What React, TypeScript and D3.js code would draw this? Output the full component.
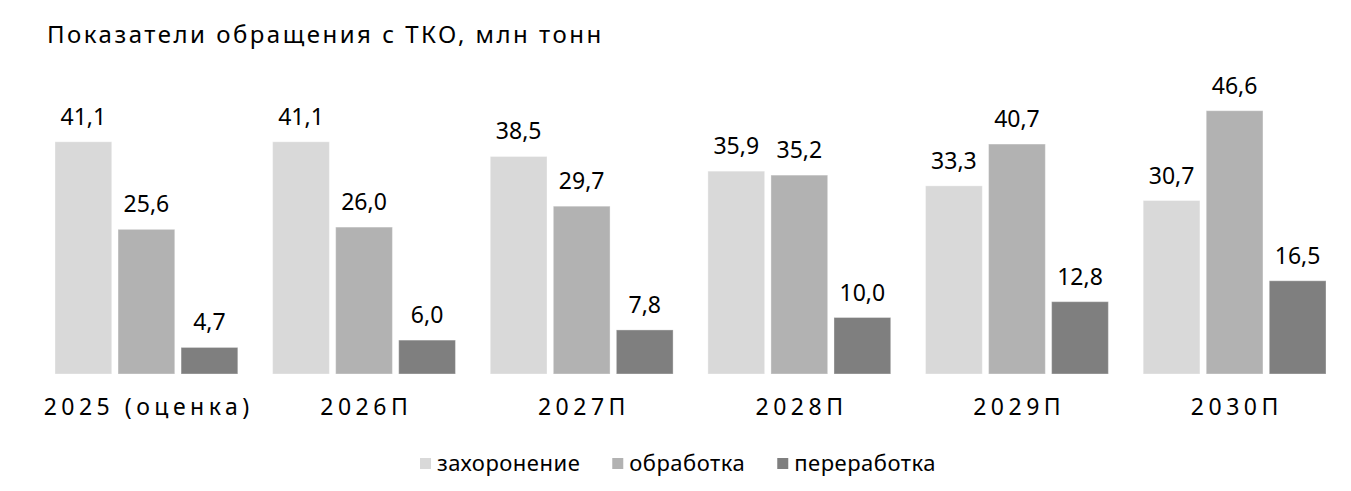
import { useEffect, useRef } from "react";
import * as d3 from "d3";

const categories = ["2025 (оценка)", "2026П", "2027П", "2028П", "2029П", "2030П"];
const seriesNames = ["захоронение", "обработка", "переработка"];
const burial = [41.1, 41.1, 38.5, 35.9, 33.3, 30.7];
const processing = [25.6, 26.0, 29.7, 35.2, 40.7, 46.6];
const recycling = [4.7, 6.0, 7.8, 10.0, 12.8, 16.5];
const seriesColors = ["#d9d9d9", "#b2b2b2", "#7f7f7f"];
const title = "Показатели обращения с ТКО, млн тонн";

const WIDTH = 1351;
const HEIGHT = 491;
const FONT = "'Noto Sans', 'Open Sans', sans-serif";

export default function App() {
  const svgRef = useRef<SVGSVGElement>(null);

  useEffect(() => {
    if (!svgRef.current) return;
    const svg = d3.select(svgRef.current);
    svg.selectAll("*").remove();

    const seriesValues = [burial, processing, recycling];
    const rows = categories.map((cat, i) => ({
      cat,
      values: seriesNames.map((name, s) => ({ name, s, value: seriesValues[s][i] })),
    }));

    const x0 = d3.scaleBand<string>()
      .domain(categories)
      .range([55, 1326])
      .paddingInner(0.16)
      .paddingOuter(0);

    const x1 = d3.scaleBand<string>()
      .domain(seriesNames)
      .range([0, x0.bandwidth()])
      .paddingInner(0.1);

    const y = d3.scaleLinear().domain([0, 50]).range([374, 91.5]);
    const color = d3.scaleOrdinal<string>().domain(seriesNames).range(seriesColors);
    const fmt = (v: number) => d3.format(".1f")(v).replace(".", ",");

    // Title
    svg.append("text")
      .attr("x", 47)
      .attr("y", 43)
      .attr("font-family", FONT)
      .attr("font-size", 24)
      .attr("letter-spacing", 2.5)
      .attr("fill", "#000")
      .text(title);

    // Bars + value labels
    const group = svg.selectAll("g.grp")
      .data(rows)
      .join("g")
      .attr("class", "grp")
      .attr("transform", (d) => `translate(${x0(d.cat)},0)`);

    group.selectAll("rect")
      .data((d) => d.values)
      .join("rect")
      .attr("x", (d) => x1(d.name)!)
      .attr("y", (d) => y(d.value))
      .attr("width", x1.bandwidth())
      .attr("height", (d) => y(0) - y(d.value))
      .attr("fill", (d) => color(d.name))
      .attr("stroke", "#ffffff")
      .attr("stroke-opacity", 0.35)
      .attr("stroke-width", 1);

    group.selectAll("text.val")
      .data((d) => d.values)
      .join("text")
      .attr("class", "val")
      .attr("x", (d) => x1(d.name)! + x1.bandwidth() / 2)
      .attr("y", (d) => y(d.value) - 17)
      .attr("text-anchor", "middle")
      .attr("font-family", FONT)
      .attr("font-size", 23)
      .attr("fill", "#000")
      .text((d) => fmt(d.value));

    // Category labels
    const ls = 4.5;
    svg.selectAll("text.cat")
      .data(categories)
      .join("text")
      .attr("class", "cat")
      .attr("x", (d) => x0(d)! + x0.bandwidth() / 2 + ls / 2)
      .attr("y", 415)
      .attr("text-anchor", "middle")
      .attr("font-family", FONT)
      .attr("font-size", 23)
      .attr("letter-spacing", ls)
      .attr("fill", "#000")
      .text((d) => d);

    // Legend
    const legend = svg.append("g");
    let lx = 420;
    seriesNames.forEach((name) => {
      legend.append("rect")
        .attr("x", lx)
        .attr("y", 458)
        .attr("width", 11)
        .attr("height", 11)
        .attr("fill", color(name));
      const t = legend.append("text")
        .attr("x", lx + 17)
        .attr("y", 471)
        .attr("font-family", FONT)
        .attr("font-size", 22)
        .attr("letter-spacing", 0.5)
        .attr("fill", "#000")
        .text(name);
      const w = (t.node() as SVGTextElement).getComputedTextLength();
      lx += 17 + w + 32;
    });
  }, []);

  return (
    <>
      <style>{"body{margin:0;background:#fff}"}</style>
      <svg ref={svgRef} width={WIDTH} height={HEIGHT} style={{ display: "block" }} />
    </>
  );
}
